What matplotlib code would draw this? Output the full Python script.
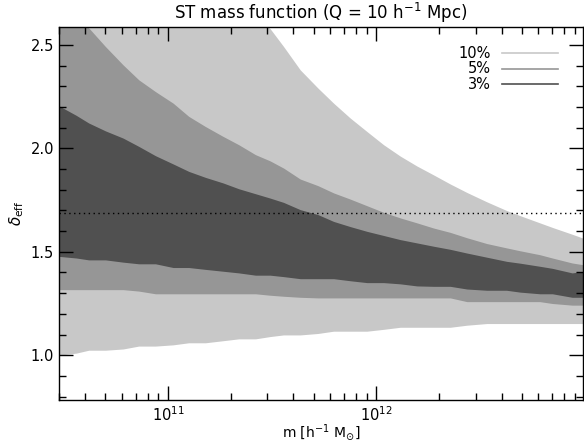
import numpy as np
import matplotlib
matplotlib.use("Agg")
import matplotlib.pyplot as plt
from matplotlib.ticker import LogLocator, MultipleLocator, NullFormatter

# log10 of the mass grid the bands are sampled on
log_mass = [10.477, 10.56, 10.62, 10.70, 10.785, 10.86, 10.94, 11.025, 11.10, 11.18,
            11.265, 11.34, 11.42, 11.49, 11.555, 11.635, 11.72, 11.795, 11.875, 11.955,
            12.035, 12.115, 12.195, 12.275, 12.355, 12.435, 12.53, 12.625, 12.69, 12.785,
            12.845, 12.94, 12.99]

# 10% band
lower_10 = [1.000, 1.010, 1.024, 1.024, 1.030, 1.044, 1.044, 1.050, 1.060, 1.060,
            1.070, 1.079, 1.079, 1.090, 1.098, 1.098, 1.105, 1.116, 1.116, 1.116,
            1.125, 1.135, 1.135, 1.135, 1.135, 1.145, 1.153, 1.153, 1.153, 1.153,
            1.153, 1.153, 1.153]
upper_10 = [3.12, 3.08, 3.04, 3.00, 2.96, 2.92, 2.88, 2.84, 2.80, 2.76,
            2.72, 2.68, 2.64, 2.58, 2.493, 2.380, 2.292, 2.219, 2.147, 2.082,
            2.018, 1.963, 1.915, 1.872, 1.828, 1.787, 1.742, 1.700, 1.675, 1.640,
            1.618, 1.585, 1.567]

# 5% band
lower_5 = [1.317, 1.317, 1.317, 1.317, 1.317, 1.310, 1.297, 1.297, 1.297, 1.297,
           1.297, 1.297, 1.297, 1.290, 1.285, 1.280, 1.277, 1.277, 1.277, 1.277,
           1.277, 1.277, 1.277, 1.277, 1.277, 1.259, 1.259, 1.259, 1.259, 1.259,
           1.250, 1.242, 1.242]
upper_5 = [2.72, 2.65, 2.583, 2.493, 2.404, 2.332, 2.275, 2.219, 2.155, 2.106,
           2.058, 2.018, 1.970, 1.940, 1.905, 1.852, 1.820, 1.785, 1.755, 1.723,
           1.691, 1.664, 1.640, 1.615, 1.594, 1.568, 1.540, 1.519, 1.505, 1.486,
           1.470, 1.446, 1.438]

# 3% band
lower_3 = [1.478, 1.470, 1.461, 1.461, 1.450, 1.442, 1.442, 1.424, 1.424, 1.415,
           1.406, 1.398, 1.387, 1.387, 1.380, 1.370, 1.370, 1.370, 1.360, 1.351,
           1.351, 1.345, 1.335, 1.333, 1.333, 1.320, 1.314, 1.314, 1.305, 1.297,
           1.297, 1.280, 1.280]
upper_3 = [2.206, 2.160, 2.123, 2.085, 2.050, 2.010, 1.965, 1.925, 1.889, 1.860,
           1.833, 1.805, 1.781, 1.760, 1.739, 1.704, 1.680, 1.647, 1.622, 1.599,
           1.579, 1.559, 1.543, 1.527, 1.512, 1.494, 1.474, 1.454, 1.445, 1.430,
           1.420, 1.398, 1.405]

delta_c = 1.686

band_labels = ["10%", "5%", "3%"]
band_colors = ["#c8c8c8", "#969696", "#505050"]


def make_plot():
    mass = 10.0 ** np.array(log_mass)
    fig = plt.figure(figsize=(5.84, 4.44), dpi=100)
    ax = fig.add_axes([0.101, 0.099, 0.897, 0.840])

    # widest band first so the narrow ones sit on top
    bands = [(lower_10, upper_10), (lower_5, upper_5), (lower_3, upper_3)]
    for (lo, hi), col in zip(bands, band_colors):
        ax.fill_between(mass, lo, hi, color=col, linewidth=0)

    ax.axhline(delta_c, color="black", linestyle=(0, (1, 2.5)), linewidth=1.0)

    ax.set_xscale("log")
    ax.set_xlim(3e10, 9.8e12)
    ax.set_ylim(0.783, 2.587)

    ax.xaxis.set_major_locator(LogLocator(base=10, numticks=10))
    ax.xaxis.set_minor_locator(LogLocator(base=10, subs=np.arange(2, 10), numticks=20))
    ax.xaxis.set_minor_formatter(NullFormatter())
    ax.yaxis.set_major_locator(MultipleLocator(0.5))
    ax.yaxis.set_minor_locator(MultipleLocator(0.1))
    ax.yaxis.set_major_formatter(plt.FormatStrFormatter("%.1f"))

    ax.tick_params(which="both", direction="in", top=True, right=True,
                   width=1.0, labelsize=10.5, colors="black")
    ax.tick_params(which="major", length=10)
    ax.tick_params(which="minor", length=5)
    ax.tick_params(axis="x", which="major", pad=4)
    for sp in ax.spines.values():
        sp.set_linewidth(1.0)

    # legend drawn by hand: labels right aligned, lines to the right
    for i, (lab, col) in enumerate(zip(band_labels, band_colors)):
        yy = 0.930 - 0.0415 * i
        ax.text(0.824, yy, lab, transform=ax.transAxes, ha="right", va="center",
                fontsize=10.5)
        ax.plot([0.845, 0.952], [yy, yy], transform=ax.transAxes, color=col,
                linewidth=1.2)

    ax.set_title(r"ST mass function (Q = 10 h$^{-1}$ Mpc)", fontsize=12, pad=6)
    ax.set_xlabel(r"m [h$^{-1}$ M$_{\odot}$]", fontsize=10, labelpad=-1)
    ax.set_ylabel(r"$\delta_{\rm eff}$", fontsize=11, labelpad=3)

    fig.savefig("out.png", dpi=100)


make_plot()
